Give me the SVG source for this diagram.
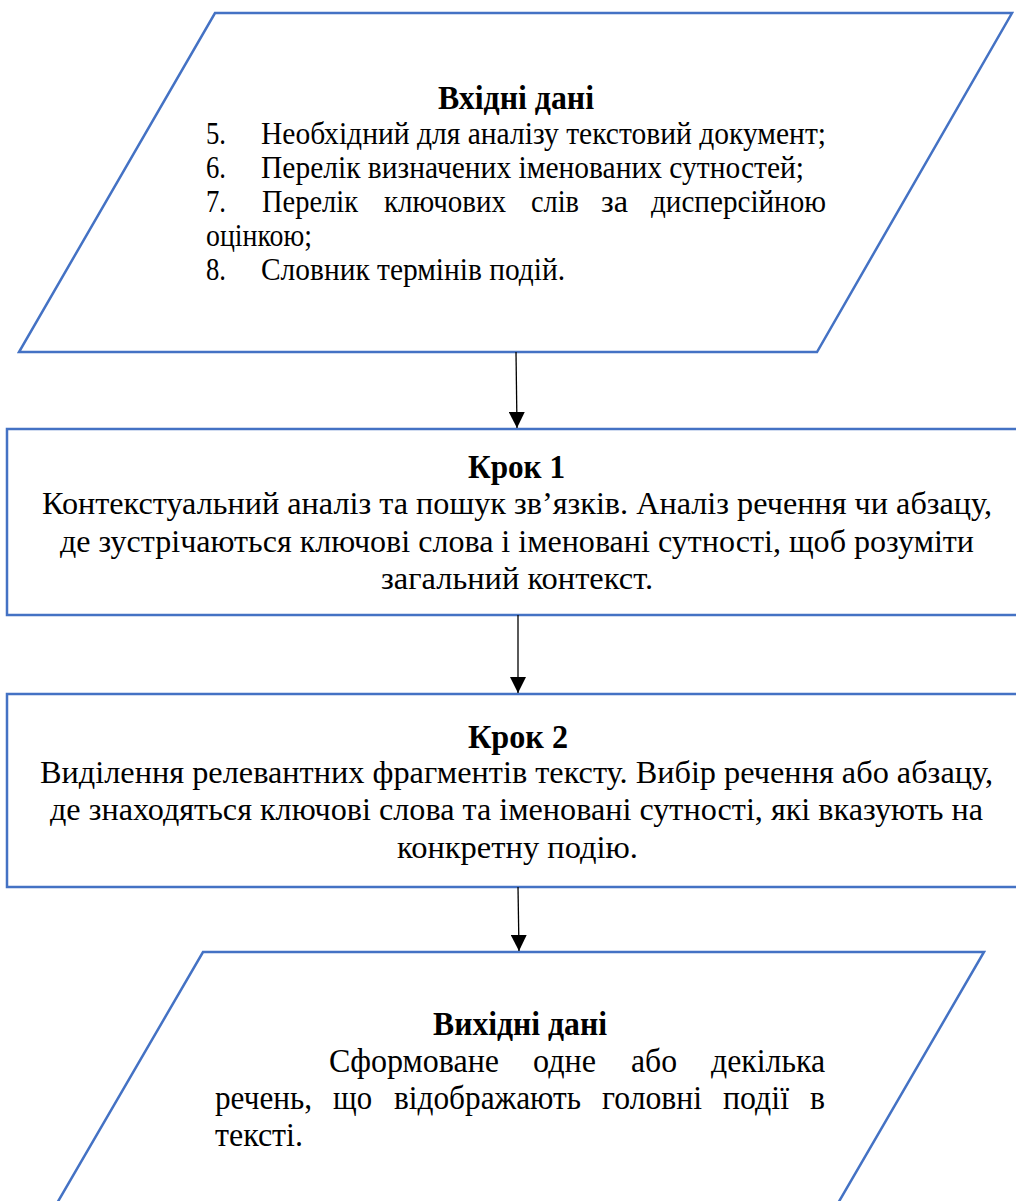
<svg xmlns="http://www.w3.org/2000/svg" width="1016" height="1201" viewBox="0 0 1016 1201">
<style>
.shape{fill:#ffffff;stroke:#4472C4;stroke-width:2.5}
.t{font-family:"Liberation Serif","Times New Roman",serif;font-size:31px;fill:#000}
.h{font-weight:bold;font-size:33px}
.o{font-size:33px}
.conn{stroke:#000;stroke-width:1.3;fill:none}
</style>
<defs>
<marker id="arr" viewBox="0 0 16 16" refX="16" refY="8" markerWidth="16" markerHeight="16" markerUnits="userSpaceOnUse" orient="auto">
<path d="M0,0 L16,8 L0,16 z" fill="#000"/>
</marker>
</defs>
<rect width="1016" height="1201" fill="#fff"/>
<g id="input">
<polygon class="shape" points="215,13 1012,13 817,352 19,352"/>
<text class="t h" x="438" y="109" textLength="156" lengthAdjust="spacingAndGlyphs">Вхідні дані</text>
<text class="t" x="206" y="144" textLength="20" lengthAdjust="spacingAndGlyphs">5.</text>
<text class="t" x="261" y="144" textLength="565" lengthAdjust="spacingAndGlyphs">Необхідний для аналізу текстовий документ;</text>
<text class="t" x="206" y="178" textLength="20" lengthAdjust="spacingAndGlyphs">6.</text>
<text class="t" x="261" y="178" textLength="543" lengthAdjust="spacingAndGlyphs">Перелік визначених іменованих сутностей;</text>
<text class="t" x="206" y="212" textLength="20" lengthAdjust="spacingAndGlyphs">7.</text>
<text class="t" x="262" y="212" textLength="96" lengthAdjust="spacingAndGlyphs">Перелік</text>
<text class="t" x="384" y="212" textLength="122" lengthAdjust="spacingAndGlyphs">ключових</text>
<text class="t" x="531" y="212" textLength="48" lengthAdjust="spacingAndGlyphs">слів</text>
<text class="t" x="601" y="212" textLength="27" lengthAdjust="spacingAndGlyphs">за</text>
<text class="t" x="651" y="212" textLength="175" lengthAdjust="spacingAndGlyphs">дисперсійною</text>
<text class="t" x="206" y="246" textLength="106" lengthAdjust="spacingAndGlyphs">оцінкою;</text>
<text class="t" x="206" y="280" textLength="20" lengthAdjust="spacingAndGlyphs">8.</text>
<text class="t" x="261" y="280" textLength="304" lengthAdjust="spacingAndGlyphs">Словник термінів подій.</text>
</g>
<g id="step1">
<rect class="shape" x="7" y="429" width="1030" height="186"/>
<text class="t h" x="468" y="478" textLength="97" lengthAdjust="spacingAndGlyphs">Крок 1</text>
<text class="t" x="42" y="514" textLength="950" lengthAdjust="spacingAndGlyphs">Контекстуальний аналіз та пошук зв’язків. Аналіз речення чи абзацу,</text>
<text class="t" x="60" y="552" textLength="914" lengthAdjust="spacingAndGlyphs">де зустрічаються ключові слова і іменовані сутності, щоб розуміти</text>
<text class="t" x="381" y="589" textLength="272" lengthAdjust="spacingAndGlyphs">загальний контекст.</text>
</g>
<g id="step2">
<rect class="shape" x="7" y="694" width="1030" height="193"/>
<text class="t h" x="468" y="748" textLength="100" lengthAdjust="spacingAndGlyphs">Крок 2</text>
<text class="t" x="40" y="783" textLength="953" lengthAdjust="spacingAndGlyphs">Виділення релевантних фрагментів тексту. Вибір речення або абзацу,</text>
<text class="t" x="50" y="820" textLength="933" lengthAdjust="spacingAndGlyphs">де знаходяться ключові слова та іменовані сутності, які вказують на</text>
<text class="t" x="397" y="858" textLength="241" lengthAdjust="spacingAndGlyphs">конкретну подію.</text>
</g>
<g id="output">
<polygon class="shape" points="203,952 984,952 805,1260 24,1260"/>
<text class="t h" x="433" y="1035" textLength="174" lengthAdjust="spacingAndGlyphs">Вихідні дані</text>
<text class="t o" x="329" y="1072" textLength="170" lengthAdjust="spacingAndGlyphs">Сформоване</text>
<text class="t o" x="533" y="1072" textLength="63" lengthAdjust="spacingAndGlyphs">одне</text>
<text class="t o" x="631" y="1072" textLength="46" lengthAdjust="spacingAndGlyphs">або</text>
<text class="t o" x="711" y="1072" textLength="114" lengthAdjust="spacingAndGlyphs">декілька</text>
<text class="t o" x="215" y="1109" textLength="97" lengthAdjust="spacingAndGlyphs">речень,</text>
<text class="t o" x="333" y="1109" textLength="39" lengthAdjust="spacingAndGlyphs">що</text>
<text class="t o" x="394" y="1109" textLength="187" lengthAdjust="spacingAndGlyphs">відображають</text>
<text class="t o" x="602" y="1109" textLength="100" lengthAdjust="spacingAndGlyphs">головні</text>
<text class="t o" x="723" y="1109" textLength="66" lengthAdjust="spacingAndGlyphs">події</text>
<text class="t o" x="810" y="1109" textLength="15" lengthAdjust="spacingAndGlyphs">в</text>
<text class="t o" x="215" y="1146" textLength="88" lengthAdjust="spacingAndGlyphs">тексті.</text>
</g>
<g id="connectors">
<line class="conn" x1="516" y1="352" x2="517" y2="428" marker-end="url(#arr)"/>
<line class="conn" x1="518" y1="615" x2="518" y2="693" marker-end="url(#arr)"/>
<line class="conn" x1="518" y1="887" x2="519" y2="951" marker-end="url(#arr)"/>
</g>
</svg>
